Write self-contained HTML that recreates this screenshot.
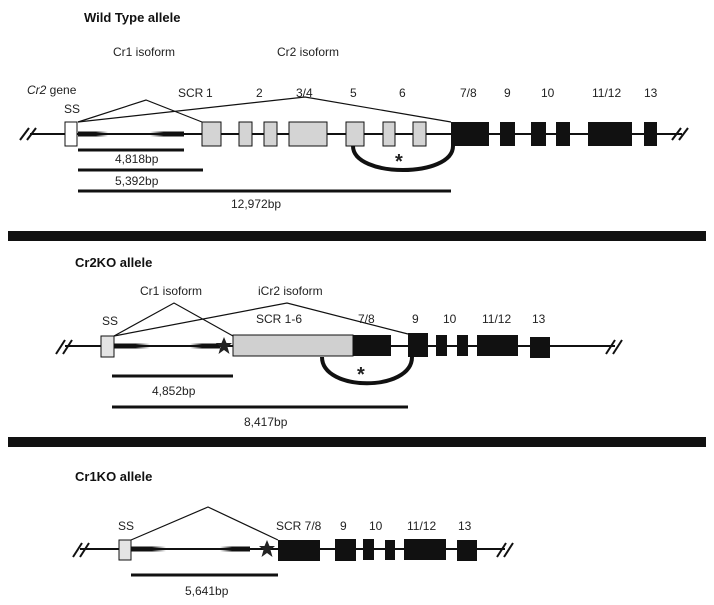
<!DOCTYPE html>
<html><head><meta charset="utf-8"><style>
html,body{margin:0;padding:0;background:#fff;}
svg{display:block}
text{font-family:"Liberation Sans",sans-serif;font-size:12px;fill:#222}
.b{font-weight:bold;font-size:13px;fill:#111}
</style></head><body>
<svg width="714" height="605" viewBox="0 0 714 605" xmlns="http://www.w3.org/2000/svg">
<defs>
<linearGradient id="fl" x1="0" x2="1"><stop offset="0" stop-color="#111"/><stop offset="0.6" stop-color="#111"/><stop offset="1" stop-color="#111" stop-opacity="0"/></linearGradient>
<linearGradient id="fr" x1="0" x2="1"><stop offset="0" stop-color="#111" stop-opacity="0"/><stop offset="0.4" stop-color="#111"/><stop offset="1" stop-color="#111"/></linearGradient>
</defs>
<g stroke="#111" fill="none">
<line x1="30" y1="134" x2="682" y2="134" stroke-width="2"/>
<line x1="20" y1="140" x2="29" y2="128" stroke-width="2"/><line x1="27" y1="140" x2="36" y2="128" stroke-width="2"/>
<line x1="672" y1="140" x2="681" y2="128" stroke-width="2"/><line x1="679" y1="140" x2="688" y2="128" stroke-width="2"/>
<polyline points="78,122 146,100 202,122" stroke-width="1.2"/>
<polyline points="78,122 305,97 451,122" stroke-width="1.2"/>
<path d="M353,146 C353,178 453,178 453,146" stroke-width="4"/>
<line x1="78" y1="150" x2="184" y2="150" stroke-width="3"/>
<line x1="78" y1="170" x2="203" y2="170" stroke-width="3"/>
<line x1="78" y1="191" x2="451" y2="191" stroke-width="3"/>
</g>
<rect x="78" y="131.5" width="30" height="5" fill="url(#fl)"/>
<rect x="150" y="131.5" width="34" height="5" fill="url(#fr)"/>
<g stroke="#111" stroke-width="1" fill="#d4d4d4">
<rect x="65" y="122" width="12" height="24" fill="#fff"/>
<rect x="202" y="122" width="19" height="24"/>
<rect x="239" y="122" width="13" height="24"/>
<rect x="264" y="122" width="13" height="24"/>
<rect x="289" y="122" width="38" height="24"/>
<rect x="346" y="122" width="18" height="24"/>
<rect x="383" y="122" width="12" height="24"/>
<rect x="413" y="122" width="13" height="24"/>
</g>
<g fill="#111">
<rect x="451" y="122" width="38" height="24"/>
<rect x="500" y="122" width="15" height="24"/>
<rect x="531" y="122" width="15" height="24"/>
<rect x="556" y="122" width="14" height="24"/>
<rect x="588" y="122" width="44" height="24"/>
<rect x="644" y="122" width="13" height="24"/>
<rect x="8" y="231" width="698" height="10"/>
<rect x="8" y="437" width="698" height="10"/>
</g>
<text x="84" y="22" class="b">Wild Type allele</text>
<text x="113" y="56">Cr1 isoform</text>
<text x="277" y="56">Cr2 isoform</text>
<text x="27" y="94"><tspan font-style="italic">Cr2</tspan> gene</text>
<text x="64" y="113">SS</text>
<text x="178" y="97">SCR</text>
<text x="206" y="97">1</text>
<text x="256" y="97">2</text>
<text x="296" y="97">3/4</text>
<text x="350" y="97">5</text>
<text x="399" y="97">6</text>
<text x="460" y="97">7/8</text>
<text x="504" y="97">9</text>
<text x="541" y="97">10</text>
<text x="592" y="97">11/12</text>
<text x="644" y="97">13</text>
<text x="395" y="168" style="font-size:20px;font-weight:bold">*</text>
<text x="115" y="163">4,818bp</text>
<text x="115" y="185">5,392bp</text>
<text x="231" y="208">12,972bp</text>

<g stroke="#111" fill="none">
<line x1="65" y1="346" x2="615" y2="346" stroke-width="2"/>
<line x1="56" y1="354" x2="65" y2="340" stroke-width="2"/><line x1="63" y1="354" x2="72" y2="340" stroke-width="2"/>
<line x1="606" y1="354" x2="615" y2="340" stroke-width="2"/><line x1="613" y1="354" x2="622" y2="340" stroke-width="2"/>
<polyline points="114,336 174,303 233,336" stroke-width="1.2"/>
<polyline points="114,336 287,303 408,334" stroke-width="1.2"/>
<path d="M322,357 C322,392 412,392 412,357" stroke-width="4"/>
<line x1="112" y1="376" x2="233" y2="376" stroke-width="3"/>
<line x1="112" y1="407" x2="408" y2="407" stroke-width="3"/>
</g>
<rect x="114" y="343.5" width="36" height="5" fill="url(#fl)"/>
<rect x="190" y="343.5" width="30" height="5" fill="url(#fr)"/>
<polygon points="224,337 226.5,343 232,343 227.5,347 229.5,354 224,350 218.5,354 220.5,347 216,343 221.5,343" fill="#222"/>
<rect x="101" y="336" width="13" height="21" fill="#e4e4e4" stroke="#111"/>
<rect x="233" y="335" width="120" height="21" fill="#d0d0d0" stroke="#111"/>
<g fill="#111">
<rect x="353" y="335" width="38" height="21"/>
<rect x="408" y="333" width="20" height="24"/>
<rect x="436" y="335" width="11" height="21"/>
<rect x="457" y="335" width="11" height="21"/>
<rect x="477" y="335" width="41" height="21"/>
<rect x="530" y="337" width="20" height="21"/>
</g>
<text x="75" y="267" class="b">Cr2KO allele</text>
<text x="140" y="295">Cr1 isoform</text>
<text x="258" y="295">iCr2 isoform</text>
<text x="102" y="325">SS</text>
<text x="256" y="323">SCR 1-6</text>
<text x="358" y="323">7/8</text>
<text x="412" y="323">9</text>
<text x="443" y="323">10</text>
<text x="482" y="323">11/12</text>
<text x="532" y="323">13</text>
<text x="357" y="381" style="font-size:20px;font-weight:bold">*</text>
<text x="152" y="395">4,852bp</text>
<text x="244" y="426">8,417bp</text>

<g stroke="#111" fill="none">
<line x1="80" y1="549" x2="505" y2="549" stroke-width="2"/>
<line x1="73" y1="557" x2="82" y2="543" stroke-width="2"/><line x1="80" y1="557" x2="89" y2="543" stroke-width="2"/>
<line x1="497" y1="557" x2="506" y2="543" stroke-width="2"/><line x1="504" y1="557" x2="513" y2="543" stroke-width="2"/>
<polyline points="131,540 208,507 278,540" stroke-width="1.2"/>
<line x1="131" y1="575" x2="278" y2="575" stroke-width="3"/>
</g>
<rect x="131" y="546.5" width="35" height="5" fill="url(#fl)"/>
<rect x="220" y="546.5" width="30" height="5" fill="url(#fr)"/>
<polygon points="267,540 269.5,546 275,546 270.5,550 272.5,557 267,553 261.5,557 263.5,550 259,546 264.5,546" fill="#222"/>
<rect x="119" y="540" width="12" height="20" fill="#e4e4e4" stroke="#111"/>
<g fill="#111">
<rect x="278" y="540" width="42" height="21"/>
<rect x="335" y="539" width="21" height="22"/>
<rect x="363" y="539" width="11" height="21"/>
<rect x="385" y="540" width="10" height="20"/>
<rect x="404" y="539" width="42" height="21"/>
<rect x="457" y="540" width="20" height="21"/>
</g>
<text x="75" y="481" class="b">Cr1KO allele</text>
<text x="118" y="530">SS</text>
<text x="276" y="530">SCR 7/8</text>
<text x="340" y="530">9</text>
<text x="369" y="530">10</text>
<text x="407" y="530">11/12</text>
<text x="458" y="530">13</text>
<text x="185" y="595">5,641bp</text>
</svg>
</body></html>
